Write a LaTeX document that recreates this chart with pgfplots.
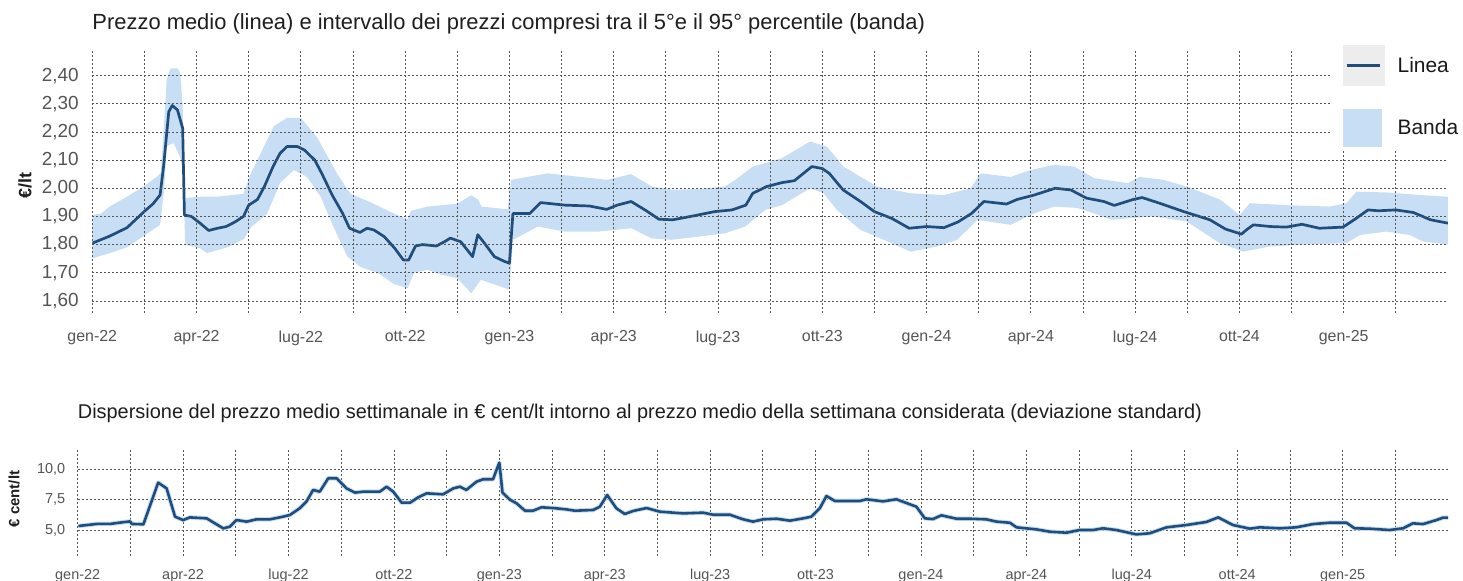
\documentclass[border=0pt]{standalone}
\usepackage{fontspec}
\setmainfont{Liberation Sans}
\usepackage{pgfplots}
\pgfplotsset{compat=1.18}
\definecolor{linecol}{RGB}{31,78,125}
\definecolor{bandcol}{RGB}{200,222,245}
\definecolor{gridcol}{RGB}{85,85,85}
\definecolor{tickcol}{RGB}{85,85,85}
\definecolor{titlecol}{RGB}{30,30,30}

\pgfplotstableread{
m v
0.00 1.805
0.50 1.830
1.00 1.860
1.50 1.918
1.75 1.945
1.95 1.976
2.05 2.077
2.20 2.272
2.30 2.294
2.45 2.278
2.60 2.213
2.65 1.905
2.85 1.900
3.10 1.876
3.35 1.850
3.60 1.858
3.85 1.864
4.10 1.880
4.35 1.900
4.50 1.940
4.75 1.960
4.95 2.006
5.20 2.077
5.40 2.124
5.60 2.148
5.90 2.148
6.10 2.136
6.40 2.100
6.60 2.053
6.90 1.976
7.20 1.911
7.40 1.858
7.70 1.843
7.90 1.858
8.10 1.852
8.40 1.828
8.70 1.787
8.95 1.745
9.10 1.745
9.30 1.795
9.50 1.800
9.90 1.795
10.13 1.810
10.30 1.823
10.60 1.810
10.94 1.757
11.09 1.835
11.28 1.805
11.57 1.757
11.86 1.740
12.00 1.734
12.10 1.910
12.58 1.910
12.90 1.949
13.60 1.940
14.30 1.937
14.80 1.925
15.10 1.940
15.50 1.953
15.90 1.923
16.30 1.890
16.70 1.888
17.30 1.902
17.90 1.917
18.40 1.923
18.80 1.940
19.00 1.982
19.40 2.006
19.84 2.020
20.20 2.027
20.70 2.077
21.00 2.070
21.20 2.053
21.60 1.994
22.10 1.953
22.50 1.917
23.00 1.893
23.50 1.858
24.00 1.864
24.50 1.860
24.90 1.880
25.30 1.911
25.65 1.953
26.30 1.944
26.60 1.960
27.10 1.976
27.70 2.000
28.15 1.994
28.60 1.965
29.10 1.953
29.40 1.939
29.94 1.960
30.20 1.967
30.70 1.947
31.40 1.917
32.15 1.888
32.60 1.855
33.06 1.837
33.20 1.852
33.40 1.870
33.90 1.864
34.35 1.862
34.80 1.872
35.30 1.858
35.98 1.862
36.30 1.888
36.70 1.923
37.00 1.920
37.50 1.923
38.00 1.914
38.50 1.888
39.00 1.876
}\meanTab

% band polygon: upper edge left->right, then lower edge right->left
\pgfplotstableread{
m v
0.00 1.905
0.25 1.910
0.50 1.935
1.00 1.970
1.47 2.006
1.85 2.040
1.97 2.055
2.05 2.200
2.14 2.385
2.25 2.426
2.45 2.426
2.53 2.410
2.60 2.290
2.65 1.965
3.10 1.970
3.60 1.970
4.35 1.980
4.55 2.050
5.22 2.220
5.60 2.250
6.00 2.250
6.47 2.180
7.05 2.050
7.43 1.980
8.01 1.950
8.68 1.910
9.07 1.890
9.17 1.920
9.65 1.935
10.50 1.945
10.90 1.975
11.10 1.960
11.20 1.935
11.95 1.925
12.05 2.030
13.10 2.053
14.06 2.040
14.80 2.030
15.50 2.050
16.10 2.006
16.70 1.995
17.40 1.997
18.20 2.006
18.50 2.030
19.00 2.077
19.84 2.107
20.65 2.166
21.13 2.148
21.61 2.077
22.57 2.006
23.54 1.982
24.50 1.976
25.27 2.000
25.56 2.053
26.42 2.040
27.00 2.065
27.67 2.083
28.25 2.077
28.82 2.036
29.79 2.018
30.14 2.040
30.81 2.030
31.48 2.006
32.44 1.960
33.01 1.905
33.30 1.947
34.35 1.940
35.60 1.935
36.08 1.947
36.37 1.988
37.23 1.985
38.19 1.976
39.00 1.970
39.00 1.800
38.28 1.811
37.90 1.834
37.23 1.846
36.46 1.834
36.08 1.805
34.83 1.800
33.87 1.793
33.11 1.775
32.44 1.805
31.48 1.882
30.52 1.900
29.79 1.893
29.30 1.888
28.82 1.911
28.34 1.930
27.67 1.935
27.10 1.911
26.42 1.870
25.46 1.888
24.88 1.817
24.30 1.793
23.54 1.775
22.77 1.817
22.10 1.852
21.42 1.923
21.04 1.982
20.65 2.000
19.84 1.940
19.36 1.923
18.78 1.864
18.20 1.840
17.43 1.828
16.66 1.817
16.09 1.822
15.51 1.858
14.55 1.846
13.59 1.846
12.82 1.864
12.10 1.817
12.00 1.640
11.18 1.675
10.90 1.627
10.51 1.680
10.00 1.695
9.64 1.710
9.26 1.700
9.07 1.645
8.68 1.660
8.20 1.700
7.72 1.720
7.34 1.757
6.95 1.860
6.57 1.970
6.18 2.040
5.80 2.065
5.41 2.020
5.03 1.910
4.55 1.860
4.36 1.820
3.88 1.790
3.30 1.770
3.10 1.787
2.67 1.800
2.62 2.050
2.53 2.110
2.34 2.160
2.14 2.150
2.07 2.000
1.95 1.870
1.47 1.830
0.99 1.790
0.51 1.770
0.00 1.751
}\bandTab

\pgfplotstableread{
m v
0.02 5.33
0.54 5.50
0.92 5.50
1.20 5.61
1.49 5.71
1.54 5.50
1.87 5.47
2.29 8.90
2.53 8.43
2.77 6.10
3.00 5.82
3.19 6.04
3.67 5.96
4.14 5.14
4.33 5.27
4.52 5.82
4.81 5.69
5.09 5.88
5.47 5.88
5.85 6.10
6.04 6.24
6.32 6.79
6.51 7.34
6.70 8.30
6.89 8.16
7.13 9.26
7.37 9.26
7.65 8.43
7.89 8.08
8.13 8.16
8.60 8.16
8.79 8.57
8.98 8.16
9.22 7.25
9.46 7.25
9.69 7.69
9.93 8.02
10.40 7.94
10.69 8.43
10.88 8.57
11.06 8.30
11.35 8.98
11.54 9.18
11.82 9.18
12.00 10.55
12.09 8.08
12.30 7.50
12.49 7.20
12.73 6.59
12.96 6.59
13.20 6.87
13.53 6.81
13.91 6.70
14.15 6.59
14.67 6.65
14.86 6.92
15.07 7.88
15.33 6.79
15.57 6.32
15.81 6.57
16.19 6.81
16.57 6.51
17.23 6.37
17.80 6.43
18.08 6.26
18.56 6.26
18.94 5.88
19.22 5.69
19.51 5.88
19.89 5.93
20.27 5.77
20.65 5.96
20.88 6.10
21.12 6.79
21.31 7.80
21.55 7.39
22.26 7.39
22.45 7.53
22.92 7.36
23.30 7.53
23.87 6.92
24.11 5.96
24.34 5.90
24.58 6.21
25.01 5.93
25.39 5.93
25.86 5.88
26.15 5.69
26.53 5.60
26.72 5.22
27.29 5.05
27.67 4.86
28.14 4.78
28.52 5.00
28.90 5.00
29.18 5.14
29.56 5.00
30.13 4.64
30.51 4.73
30.99 5.22
31.55 5.41
32.12 5.66
32.46 6.04
32.88 5.41
33.36 5.11
33.64 5.22
34.21 5.14
34.68 5.22
35.16 5.49
35.63 5.60
36.11 5.60
36.34 5.14
36.77 5.11
37.34 5.00
37.72 5.14
38.00 5.55
38.29 5.49
38.67 5.82
38.86 6.02
39.00 6.02
}\sdTab

\pgfplotsset{
  commonstyle/.style={
    scale only axis,
    xmin=0, xmax=39,
    axis line style={draw=none},
    major tick length=0pt, minor tick length=0pt,
    xtick={0,3,...,36},
    minor xtick={1.5,4.5,...,37.5},
    xticklabels={gen-22,apr-22,lug-22,ott-22,gen-23,apr-23,lug-23,ott-23,gen-24,apr-24,lug-24,ott-24,gen-25},
    grid=both,
    major grid style={gridcol, line width=0.75bp, dash pattern=on 2bp off 2bp},
    minor grid style={gridcol, line width=0.75bp, dash pattern=on 2bp off 2bp},
    yticklabel style={/pgf/number format/fixed, /pgf/number format/fixed zerofill, /pgf/number format/use comma, /pgf/number format/assume math mode=true},
  }
}

\begin{document}
\begin{tikzpicture}
\fill[white] (0bp,0bp) rectangle (1463bp,581bp);

% ---------------- top panel ----------------
\begin{axis}[
  commonstyle,
  at={(92.3bp,268bp)}, anchor=south west,
  width=1355.7bp, height=263bp,
  ymin=1.557, ymax=2.491,
  ytick={1.6,1.7,1.8,1.9,2.0,2.1,2.2,2.3,2.4},
  yticklabel style={/pgf/number format/precision=2, font=\fontsize{19}{21}\selectfont, text=tickcol, xshift=-10bp},
  xticklabel style={font=\fontsize{16}{18}\selectfont, text=tickcol, yshift=-14bp},
  axis on top,
  ylabel={€/lt},
  ylabel style={at={(axis description cs:-0.0496,0.483)}, anchor=center, font=\bfseries\fontsize{18}{20}\selectfont, text=titlecol},
  title={Prezzo medio (linea) e intervallo dei prezzi compresi tra il 5°e il 95° percentile (banda)},
  title style={at={(axis description cs:0,1.077)}, anchor=west, inner sep=0pt, font=\fontsize{22}{24}\selectfont, text=titlecol},
  legend style={at={(0.9145,1.038)}, anchor=north west, draw=none, fill=white,
    inner xsep=11bp, inner ysep=5bp, row sep=23bp,
    font=\fontsize{21}{24}\selectfont, text=black!90,
    /tikz/every odd column/.append style={column sep=11bp}},
  legend cell align=left,
]
\addlegendimage{legend image code/.code={\fill[black!7] (0bp,-20bp) rectangle (41bp,20bp); \draw[linecol, line width=3.5bp] (4bp,0bp) -- (37bp,0bp);}}
\addlegendentry{Linea}
\addlegendimage{legend image code/.code={\fill[bandcol] (0bp,-18.5bp) rectangle (38bp,18.5bp);}}
\addlegendentry{Banda}

\addplot[fill=bandcol, draw=none, forget plot] table[x=m, y=v] {\bandTab} -- cycle;
\addplot[linecol, line width=2.7bp, line join=round, forget plot] table[x=m, y=v] {\meanTab};
\end{axis}

% ---------------- bottom panel ----------------
\begin{axis}[
  commonstyle,
  at={(77.7bp,25bp)}, anchor=south west,
  width=1370.3bp, height=106bp,
  ymin=2.86, ymax=11.59,
  ytick={5,7.5,10},
  yticklabel style={/pgf/number format/precision=1, font=\fontsize{14.5}{16}\selectfont, text=tickcol, xshift=-9bp},
  xticklabel style={font=\fontsize{14.5}{16}\selectfont, text=tickcol, yshift=-10bp},
  ylabel={€ cent/lt},
  ylabel style={at={(axis description cs:-0.0465,0.538)}, anchor=center, font=\bfseries\fontsize{15}{17}\selectfont, text=titlecol},
  title={Dispersione del prezzo medio settimanale in € cent/lt intorno al prezzo medio della settimana considerata (deviazione standard)},
  title style={at={(axis description cs:0,1.292)}, anchor=west, inner sep=0pt, font=\fontsize{20}{22}\selectfont, text=titlecol},
]
\addplot[bandcol, line width=4.5bp, line join=round] table[x=m, y=v] {\sdTab};
\addplot[linecol, line width=2.6bp, line join=round] table[x=m, y=v] {\sdTab};
\end{axis}

\pgfresetboundingbox
\useasboundingbox (0bp,0bp) rectangle (1463bp,581bp);
\end{tikzpicture}
\end{document}
